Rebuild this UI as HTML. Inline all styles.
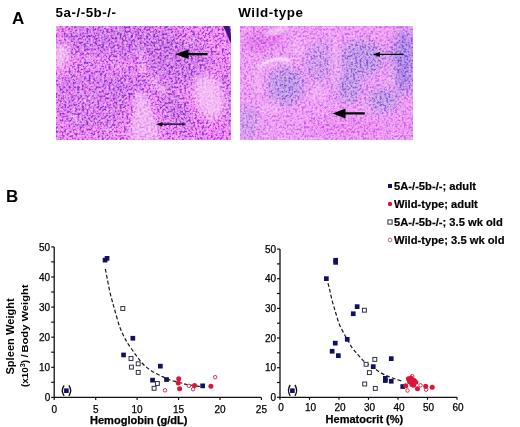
<!DOCTYPE html>
<html><head><meta charset="utf-8"><style>
html,body{margin:0;padding:0;background:#fff;width:520px;height:427px;overflow:hidden}
svg{display:block}
</style></head><body>
<svg width="520" height="427" viewBox="0 0 520 427">
<rect width="520" height="427" fill="#fff"/>
<defs>
<clipPath id="cL"><rect x="56" y="26" width="175" height="114"/></clipPath>
<clipPath id="cR"><rect x="240" y="26" width="173" height="114"/></clipPath>
<filter id="sat" x="0" y="0" width="100%" height="100%" color-interpolation-filters="sRGB"><feColorMatrix type="saturate" values="1.08"/></filter>
<filter id="b1" x="-50%" y="-50%" width="200%" height="200%"><feGaussianBlur stdDeviation="0.8"/></filter>
<filter id="b2" x="-50%" y="-50%" width="200%" height="200%"><feGaussianBlur stdDeviation="2"/></filter>
<filter id="b4" x="-50%" y="-50%" width="200%" height="200%"><feGaussianBlur stdDeviation="4"/></filter>
<filter id="b6" x="-50%" y="-50%" width="200%" height="200%"><feGaussianBlur stdDeviation="6"/></filter>
<filter id="tex3" x="0" y="0" width="100%" height="100%">
 <feTurbulence type="fractalNoise" baseFrequency="0.12" numOctaves="2" seed="5" result="n"/>
 <feColorMatrix in="n" type="matrix" values="0 0 0 0 0.55  0 0 0 0 0.3  0 0 0 0 0.85  0 0 0 -3 1.6"/>
</filter>
<filter id="gtex" x="0" y="0" width="100%" height="100%" color-interpolation-filters="sRGB">
 <feTurbulence type="fractalNoise" baseFrequency="0.45" numOctaves="2" seed="4" result="n"/>
 <feColorMatrix in="n" type="matrix" values="1 0 0 0 0  1 0 0 0 0  1 0 0 0 0  0 0 0 0 1" result="g"/>
 <feComponentTransfer in="g"><feFuncR type="linear" slope="2.0" intercept="-0.500"/><feFuncG type="linear" slope="2.0" intercept="-0.500"/><feFuncB type="linear" slope="2.0" intercept="-0.500"/></feComponentTransfer><feGaussianBlur stdDeviation="0.45"/>
</filter>
<filter id="ctex" x="0" y="0" width="100%" height="100%" color-interpolation-filters="sRGB">
 <feTurbulence type="fractalNoise" baseFrequency="0.45" numOctaves="2" seed="4" result="n"/>
 <feColorMatrix in="n" type="matrix" values="0 0 0 0 0.5  0 0 0 0 0.22  0 0 0 0 0.78  -6 0 0 0 2.9"/><feGaussianBlur stdDeviation="0.45"/>
</filter>
<mask id="fm" maskUnits="userSpaceOnUse" x="240" y="26" width="173" height="114"><g filter="url(#b4)" fill="#fff">
<ellipse cx="286" cy="86" rx="17" ry="17"/><ellipse cx="362" cy="58" rx="21" ry="17"/><ellipse cx="349" cy="86" rx="12" ry="16"/>
<ellipse cx="404" cy="62" rx="11" ry="31"/><ellipse cx="383" cy="100" rx="14" ry="11"/><ellipse cx="319" cy="62" rx="12" ry="18" opacity="0.6"/></g></mask>
</defs>
<g filter="url(#sat)"><g clip-path="url(#cL)">
<rect x="56" y="26" width="175" height="114" fill="#f08cf0"/>
<g filter="url(#b6)">
<ellipse cx="120" cy="40" rx="60" ry="18" fill="#c070dc" opacity="0.6"/>
<ellipse cx="92" cy="100" rx="38" ry="32" fill="#c070dc" opacity="0.45"/>
<ellipse cx="180" cy="62" rx="32" ry="24" fill="#c070dc" opacity="0.6"/>
<ellipse cx="176" cy="110" rx="9" ry="26" transform="rotate(-35 176 110)" fill="#c070dc" opacity="0.7"/>
<ellipse cx="229" cy="100" rx="5" ry="32" fill="#c070dc" opacity="0.6"/>
<ellipse cx="130" cy="85" rx="20" ry="15" fill="#c070dc" opacity="0.4"/>
<ellipse cx="215" cy="135" rx="18" ry="6" fill="#f070f0" opacity="0.6"/>
</g>
<rect x="56" y="26" width="175" height="114" filter="url(#tex3)" opacity="0.45"/>
<rect x="56" y="26" width="175" height="114" filter="url(#ctex)" opacity="0.5"/>
<g filter="url(#b4)">
<ellipse cx="61" cy="56" rx="8" ry="14" fill="#f2bef2" opacity="0.9"/>
<ellipse cx="64" cy="50" rx="4" ry="6" fill="#f8d8f8" opacity="0.6"/>
<ellipse cx="209" cy="97" rx="15" ry="24" transform="rotate(-18 209 97)" fill="#f2bef2" opacity="0.85"/>
<ellipse cx="89" cy="99" rx="7" ry="7" fill="#f2bef2" opacity="0.35"/>
<ellipse cx="118" cy="66" rx="6" ry="6" fill="#f2bef2" opacity="0.25"/>
</g>
<g filter="url(#b2)"><path d="M136,90 L148,96 L162,140 L128,140 Z" fill="#f2c4f2" opacity="0.6"/><path d="M148,78 L153,76 L169,92 L164,96 Z" fill="#f4ccf4" opacity="0.7"/><path d="M139,54 L142,54 L145,74 L141,74 Z" fill="#f8dcf8" opacity="0.7"/></g>
<g filter="url(#b2)">
<ellipse cx="139.9" cy="50.5" rx="2.2" ry="2.2" fill="#fff" opacity="0.95"/>
<ellipse cx="95" cy="58" rx="3" ry="6" transform="rotate(-30 95 58)" fill="#f8d0f8" opacity="0.4"/>
<ellipse cx="75" cy="118" rx="3" ry="6" transform="rotate(-30 75 118)" fill="#f8d0f8" opacity="0.4"/>
<ellipse cx="110" cy="128" rx="3" ry="5" transform="rotate(-30 110 128)" fill="#f8d0f8" opacity="0.4"/>
<ellipse cx="190" cy="44" rx="3" ry="7" transform="rotate(-30 190 44)" fill="#f8d0f8" opacity="0.35"/>
</g>
<rect x="56" y="26" width="175" height="114" filter="url(#gtex)" style="mix-blend-mode:overlay" opacity="0.45"/>
<g filter="url(#b4)">
<ellipse cx="209" cy="97" rx="13" ry="22" transform="rotate(-18 209 97)" fill="#f4c8f4" opacity="0.35"/>
<ellipse cx="61" cy="56" rx="6" ry="12" fill="#f4c8f4" opacity="0.35"/>
</g>
<g filter="url(#b2)" opacity="0.3"><path d="M136,92 L147,97 L160,140 L130,140 Z" fill="#f4ccf4"/></g>
<path d="M223,26 L229.5,26 Q231,33 231.2,40 L230.6,43.5 Q227.5,34 223,26Z" fill="#3c1280"/>
</g></g>
<path d="M207.5,53.1 L188.6,53.1 L188.6,49.5 L175.2,54.2 L188.6,58.9 L188.6,55.3 L207.5,55.3Z" fill="#000"/>
<path d="M185.2,123.6 L162.5,123.6 L162.5,121.9 L155.9,124.2 L162.5,126.5 L162.5,124.8 L185.2,124.8Z" fill="#000"/>
<g filter="url(#sat)"><g clip-path="url(#cR)">
<rect x="240" y="26" width="173" height="114" fill="#eea2f2"/>
<g filter="url(#b4)">
<ellipse cx="286" cy="86" rx="18" ry="18" fill="#bc9ee4" opacity="0.95"/>
<ellipse cx="319" cy="62" rx="14" ry="20" fill="#bc9ee4" opacity="0.6"/>
<ellipse cx="362" cy="58" rx="22" ry="18" fill="#bc9ee4" opacity="0.95"/>
<ellipse cx="349" cy="86" rx="13" ry="17" fill="#bc9ee4" opacity="0.9"/>
<ellipse cx="404" cy="62" rx="12" ry="32" fill="#aa8ae0" opacity="0.95"/>
<ellipse cx="383" cy="100" rx="15" ry="12" fill="#bc9ee4" opacity="0.95"/>
<ellipse cx="248" cy="122" rx="10" ry="18" fill="#bc9ee4" opacity="0.6"/>
<ellipse cx="264" cy="40" rx="20" ry="9" transform="rotate(-15 264 40)" fill="#dc70e4" opacity="0.8"/>
<ellipse cx="345" cy="128" rx="45" ry="9" fill="#e880ec" opacity="0.5"/>
<ellipse cx="405" cy="125" rx="10" ry="15" fill="#e890ec" opacity="0.5"/>
</g>
<rect x="240" y="26" width="173" height="114" filter="url(#tex3)" opacity="0.25"/>
<rect x="240" y="26" width="173" height="114" filter="url(#ctex)" opacity="0.2"/>
<rect x="240" y="26" width="173" height="114" filter="url(#ctex)" mask="url(#fm)" opacity="0.22"/>
<g filter="url(#b2)">
<ellipse cx="276" cy="31" rx="13" ry="3" transform="rotate(-14 276 31)" fill="#f8d8f8" opacity="0.85"/>
<ellipse cx="258" cy="80" rx="5" ry="16" fill="#f2bef2" opacity="0.45"/>
<ellipse cx="298" cy="48" rx="7" ry="10" fill="#f2bef2" opacity="0.45"/>
<ellipse cx="336" cy="62" rx="4" ry="26" fill="#f2bef2" opacity="0.55"/>
<ellipse cx="270" cy="108" rx="10" ry="7" fill="#f2bef2" opacity="0.45"/>
<ellipse cx="318" cy="94" rx="9" ry="9" fill="#f2bef2" opacity="0.5"/>
<ellipse cx="392" cy="78" rx="4" ry="14" fill="#f2bef2" opacity="0.4"/>
<ellipse cx="366" cy="108" rx="6" ry="6" fill="#f2bef2" opacity="0.35"/>
</g>
<g filter="url(#b1)"><path d="M260,67 Q268,59 280,59 Q288,59 291,61" fill="none" stroke="#fbeafb" stroke-width="2.6"/><path d="M263,70 Q272,63 283,63 Q289,63 292,65" fill="none" stroke="#f6d4f6" stroke-width="1.6" opacity="0.8"/></g>
<rect x="240" y="26" width="173" height="114" filter="url(#gtex)" style="mix-blend-mode:overlay" opacity="0.32"/>
</g></g>
<path d="M403.7,53.8 L380,53.8 L380,52 L372.6,54.4 L380,56.8 L380,55 L403.7,55Z" fill="#000"/>
<path d="M364.8,112.3 L345.5,112.3 L345.5,108.4 L332.6,113.4 L345.5,118.4 L345.5,114.5 L364.8,114.5Z" fill="#000"/>
<text x="12" y="23.5" font-family="Liberation Sans, sans-serif" font-weight="bold" font-size="17">A</text>
<text x="6" y="201.7" font-family="Liberation Sans, sans-serif" font-weight="bold" font-size="17">B</text>
<text x="55.6" y="17.4" font-family="Liberation Sans, sans-serif" font-weight="bold" font-size="13.4" letter-spacing="0.5">5a-/-5b-/-</text>
<text x="238.3" y="16.8" font-family="Liberation Sans, sans-serif" font-weight="bold" font-size="13.4" letter-spacing="0.55">Wild-type</text>
<rect x="388.0" y="184.0" width="4" height="4" fill="#111160"/>
<text x="394" y="190" font-family="Liberation Sans, sans-serif" font-weight="bold" font-size="11.2" stroke="#000" stroke-width="0.2">5A-/-5b-/-; adult</text>
<circle cx="390.0" cy="204.0" r="2.2" fill="#dc1438"/>
<text x="394" y="208" font-family="Liberation Sans, sans-serif" font-weight="bold" font-size="11.2" stroke="#000" stroke-width="0.2">Wild-type; adult</text>
<rect x="387.9" y="219.9" width="4.2" height="4.2" fill="#fff" stroke="#2e2e48" stroke-width="1"/>
<text x="394" y="226" font-family="Liberation Sans, sans-serif" font-weight="bold" font-size="11.2" stroke="#000" stroke-width="0.2">5A-/-5b-/-; 3.5 wk old</text>
<circle cx="390" cy="240.0" r="1.9" fill="#fff" stroke="#a86070" stroke-width="0.9"/>
<text x="394" y="244" font-family="Liberation Sans, sans-serif" font-weight="bold" font-size="11.2" stroke="#000" stroke-width="0.2">Wild-type; 3.5 wk old</text>
<path d="M54.2,246.9 V397.4 H261.4" fill="none" stroke="#111" stroke-width="1.3"/>
<line x1="51.2" y1="397.4" x2="54.2" y2="397.4" stroke="#111" stroke-width="1.2"/>
<text x="50.2" y="401.0" font-family="Liberation Sans, sans-serif" font-size="10" text-anchor="end" stroke="#000" stroke-width="0.25">0</text>
<line x1="51.2" y1="382.3" x2="54.2" y2="382.3" stroke="#111" stroke-width="1.2"/>
<line x1="51.2" y1="367.3" x2="54.2" y2="367.3" stroke="#111" stroke-width="1.2"/>
<text x="50.2" y="370.9" font-family="Liberation Sans, sans-serif" font-size="10" text-anchor="end" stroke="#000" stroke-width="0.25">10</text>
<line x1="51.2" y1="352.2" x2="54.2" y2="352.2" stroke="#111" stroke-width="1.2"/>
<line x1="51.2" y1="337.2" x2="54.2" y2="337.2" stroke="#111" stroke-width="1.2"/>
<text x="50.2" y="340.8" font-family="Liberation Sans, sans-serif" font-size="10" text-anchor="end" stroke="#000" stroke-width="0.25">20</text>
<line x1="51.2" y1="322.1" x2="54.2" y2="322.1" stroke="#111" stroke-width="1.2"/>
<line x1="51.2" y1="307.1" x2="54.2" y2="307.1" stroke="#111" stroke-width="1.2"/>
<text x="50.2" y="310.7" font-family="Liberation Sans, sans-serif" font-size="10" text-anchor="end" stroke="#000" stroke-width="0.25">30</text>
<line x1="51.2" y1="292.0" x2="54.2" y2="292.0" stroke="#111" stroke-width="1.2"/>
<line x1="51.2" y1="277.0" x2="54.2" y2="277.0" stroke="#111" stroke-width="1.2"/>
<text x="50.2" y="280.6" font-family="Liberation Sans, sans-serif" font-size="10" text-anchor="end" stroke="#000" stroke-width="0.25">40</text>
<line x1="51.2" y1="261.9" x2="54.2" y2="261.9" stroke="#111" stroke-width="1.2"/>
<line x1="51.2" y1="246.9" x2="54.2" y2="246.9" stroke="#111" stroke-width="1.2"/>
<text x="50.2" y="250.5" font-family="Liberation Sans, sans-serif" font-size="10" text-anchor="end" stroke="#000" stroke-width="0.25">50</text>
<line x1="54.2" y1="397.4" x2="54.2" y2="399.9" stroke="#111" stroke-width="1.2"/>
<text x="54.2" y="412.6" font-family="Liberation Sans, sans-serif" font-size="10" text-anchor="middle" stroke="#000" stroke-width="0.25">0</text>
<line x1="95.7" y1="397.4" x2="95.7" y2="399.9" stroke="#111" stroke-width="1.2"/>
<text x="95.7" y="412.6" font-family="Liberation Sans, sans-serif" font-size="10" text-anchor="middle" stroke="#000" stroke-width="0.25">5</text>
<line x1="137.1" y1="397.4" x2="137.1" y2="399.9" stroke="#111" stroke-width="1.2"/>
<text x="137.1" y="412.6" font-family="Liberation Sans, sans-serif" font-size="10" text-anchor="middle" stroke="#000" stroke-width="0.25">10</text>
<line x1="178.6" y1="397.4" x2="178.6" y2="399.9" stroke="#111" stroke-width="1.2"/>
<text x="178.6" y="412.6" font-family="Liberation Sans, sans-serif" font-size="10" text-anchor="middle" stroke="#000" stroke-width="0.25">15</text>
<line x1="220.0" y1="397.4" x2="220.0" y2="399.9" stroke="#111" stroke-width="1.2"/>
<text x="220.0" y="412.6" font-family="Liberation Sans, sans-serif" font-size="10" text-anchor="middle" stroke="#000" stroke-width="0.25">20</text>
<line x1="261.4" y1="397.4" x2="261.4" y2="399.9" stroke="#111" stroke-width="1.2"/>
<text x="261.4" y="412.6" font-family="Liberation Sans, sans-serif" font-size="10" text-anchor="middle" stroke="#000" stroke-width="0.25">25</text>
<text x="90" y="423.8" font-family="Liberation Sans, sans-serif" font-weight="bold" font-size="11" stroke="#000" stroke-width="0.25" textLength="97.5" lengthAdjust="spacingAndGlyphs">Hemoglobin (g/dL)</text>
<text transform="translate(14.4,374.6) rotate(-90)" font-family="Liberation Sans, sans-serif" font-weight="bold" font-size="11" textLength="76.4" lengthAdjust="spacingAndGlyphs">Spleen Weight</text>
<text transform="translate(28,387) rotate(-90)" font-family="Liberation Sans, sans-serif" font-weight="bold" font-size="8.9" textLength="32.5" lengthAdjust="spacingAndGlyphs">(x10<tspan font-size="6.5" dy="-3">3</tspan><tspan dy="3">) /</tspan></text>
<text transform="translate(28,352.6) rotate(-90)" font-family="Liberation Sans, sans-serif" font-weight="bold" font-size="9.8" textLength="68.2" lengthAdjust="spacingAndGlyphs">Body Weight</text>
<path d="M105.3,269.0 C105.7,270.8 106.7,275.8 107.4,279.5 C108.1,283.2 108.9,287.6 109.7,291.2 C110.5,294.8 111.3,297.7 112.2,301.0 C113.1,304.3 113.8,306.8 115.0,311.0 C116.2,315.2 117.9,321.7 119.4,326.0 C120.9,330.3 122.5,333.5 124.0,336.6 C125.5,339.7 126.8,341.9 128.7,344.8 C130.6,347.7 133.2,351.4 135.2,354.1 C137.2,356.9 138.8,359.1 140.6,361.3 C142.4,363.5 144.2,365.3 146.3,367.1 C148.4,368.9 150.7,370.4 153.1,371.9 C155.5,373.3 158.4,374.6 160.8,375.8 C163.2,377.0 165.3,378.2 167.5,379.1 C169.7,380.0 171.7,380.5 174.0,381.1 C176.3,381.8 179.4,382.4 181.5,383.0 C183.6,383.6 183.4,383.8 186.3,384.4 C189.2,384.9 196.4,386.0 198.8,386.3 C201.2,386.6 200.6,386.4 201.0,386.4" fill="none" stroke="#1a1a1a" stroke-width="1.2" stroke-dasharray="3.8,2.2"/>
<rect x="120.85" y="306.55" width="3.90" height="3.90" fill="#fff" stroke="#303048" stroke-width="1.0"/>
<rect x="129.05" y="356.55" width="3.90" height="3.90" fill="#fff" stroke="#303048" stroke-width="1.0"/>
<rect x="136.25" y="361.85" width="3.90" height="3.90" fill="#fff" stroke="#303048" stroke-width="1.0"/>
<rect x="129.45" y="365.15" width="3.90" height="3.90" fill="#fff" stroke="#303048" stroke-width="1.0"/>
<rect x="136.25" y="370.45" width="3.90" height="3.90" fill="#fff" stroke="#303048" stroke-width="1.0"/>
<rect x="155.45" y="381.55" width="3.90" height="3.90" fill="#fff" stroke="#303048" stroke-width="1.0"/>
<rect x="152.15" y="386.35" width="3.90" height="3.90" fill="#fff" stroke="#303048" stroke-width="1.0"/>
<rect x="102.7" y="257.8" width="4.7" height="4.7" fill="#111160"/>
<rect x="104.7" y="256.0" width="4.7" height="4.7" fill="#111160"/>
<rect x="130.5" y="335.9" width="4.7" height="4.7" fill="#111160"/>
<rect x="121.2" y="352.6" width="4.7" height="4.7" fill="#111160"/>
<rect x="158.0" y="363.8" width="4.7" height="4.7" fill="#111160"/>
<rect x="150.2" y="377.8" width="4.7" height="4.7" fill="#111160"/>
<rect x="164.2" y="377.2" width="4.7" height="4.7" fill="#111160"/>
<rect x="200.3" y="383.5" width="4.7" height="4.7" fill="#111160"/>
<circle cx="165.0" cy="390.3" r="1.75" fill="#fff" stroke="#d43050" stroke-width="1"/>
<circle cx="188.8" cy="385.9" r="1.75" fill="#fff" stroke="#d43050" stroke-width="1"/>
<circle cx="193.1" cy="389.2" r="1.75" fill="#fff" stroke="#d43050" stroke-width="1"/>
<circle cx="215.2" cy="377.2" r="1.75" fill="#fff" stroke="#d43050" stroke-width="1"/>
<circle cx="178.7" cy="378.7" r="2.5" fill="#dc1438"/>
<circle cx="178.2" cy="383.0" r="2.5" fill="#dc1438"/>
<circle cx="179.6" cy="388.8" r="2.5" fill="#dc1438"/>
<circle cx="194.5" cy="385.4" r="2.5" fill="#dc1438"/>
<circle cx="210.9" cy="386.3" r="2.5" fill="#dc1438"/>
<path d="M64.1,385.4 Q60.6,390.6 64.1,395.8 M68.9,385.4 Q72.4,390.6 68.9,395.8" fill="none" stroke="#111" stroke-width="1.4"/>
<rect x="64.1" y="388.4" width="4.6" height="4.6" fill="#111160"/>
<path d="M280.0,249.1 V397.3 H457.0" fill="none" stroke="#111" stroke-width="1.3"/>
<line x1="277.0" y1="397.3" x2="280.0" y2="397.3" stroke="#111" stroke-width="1.2"/>
<text x="276.0" y="400.9" font-family="Liberation Sans, sans-serif" font-size="10" text-anchor="end" stroke="#000" stroke-width="0.25">0</text>
<line x1="277.0" y1="382.5" x2="280.0" y2="382.5" stroke="#111" stroke-width="1.2"/>
<line x1="277.0" y1="367.7" x2="280.0" y2="367.7" stroke="#111" stroke-width="1.2"/>
<text x="276.0" y="371.3" font-family="Liberation Sans, sans-serif" font-size="10" text-anchor="end" stroke="#000" stroke-width="0.25">10</text>
<line x1="277.0" y1="352.8" x2="280.0" y2="352.8" stroke="#111" stroke-width="1.2"/>
<line x1="277.0" y1="338.0" x2="280.0" y2="338.0" stroke="#111" stroke-width="1.2"/>
<text x="276.0" y="341.6" font-family="Liberation Sans, sans-serif" font-size="10" text-anchor="end" stroke="#000" stroke-width="0.25">20</text>
<line x1="277.0" y1="323.2" x2="280.0" y2="323.2" stroke="#111" stroke-width="1.2"/>
<line x1="277.0" y1="308.4" x2="280.0" y2="308.4" stroke="#111" stroke-width="1.2"/>
<text x="276.0" y="312.0" font-family="Liberation Sans, sans-serif" font-size="10" text-anchor="end" stroke="#000" stroke-width="0.25">30</text>
<line x1="277.0" y1="293.5" x2="280.0" y2="293.5" stroke="#111" stroke-width="1.2"/>
<line x1="277.0" y1="278.7" x2="280.0" y2="278.7" stroke="#111" stroke-width="1.2"/>
<text x="276.0" y="282.3" font-family="Liberation Sans, sans-serif" font-size="10" text-anchor="end" stroke="#000" stroke-width="0.25">40</text>
<line x1="277.0" y1="263.9" x2="280.0" y2="263.9" stroke="#111" stroke-width="1.2"/>
<line x1="277.0" y1="249.1" x2="280.0" y2="249.1" stroke="#111" stroke-width="1.2"/>
<text x="276.0" y="252.7" font-family="Liberation Sans, sans-serif" font-size="10" text-anchor="end" stroke="#000" stroke-width="0.25">50</text>
<line x1="280.0" y1="397.3" x2="280.0" y2="399.8" stroke="#111" stroke-width="1.2"/>
<text x="281.1" y="410.6" font-family="Liberation Sans, sans-serif" font-size="10" text-anchor="middle" stroke="#000" stroke-width="0.25">0</text>
<line x1="309.5" y1="397.3" x2="309.5" y2="399.8" stroke="#111" stroke-width="1.2"/>
<text x="310.6" y="410.6" font-family="Liberation Sans, sans-serif" font-size="10" text-anchor="middle" stroke="#000" stroke-width="0.25">10</text>
<line x1="339.0" y1="397.3" x2="339.0" y2="399.8" stroke="#111" stroke-width="1.2"/>
<text x="340.1" y="410.6" font-family="Liberation Sans, sans-serif" font-size="10" text-anchor="middle" stroke="#000" stroke-width="0.25">20</text>
<line x1="368.5" y1="397.3" x2="368.5" y2="399.8" stroke="#111" stroke-width="1.2"/>
<text x="369.6" y="410.6" font-family="Liberation Sans, sans-serif" font-size="10" text-anchor="middle" stroke="#000" stroke-width="0.25">30</text>
<line x1="398.0" y1="397.3" x2="398.0" y2="399.8" stroke="#111" stroke-width="1.2"/>
<text x="399.1" y="410.6" font-family="Liberation Sans, sans-serif" font-size="10" text-anchor="middle" stroke="#000" stroke-width="0.25">40</text>
<line x1="427.5" y1="397.3" x2="427.5" y2="399.8" stroke="#111" stroke-width="1.2"/>
<text x="428.6" y="410.6" font-family="Liberation Sans, sans-serif" font-size="10" text-anchor="middle" stroke="#000" stroke-width="0.25">50</text>
<line x1="457.0" y1="397.3" x2="457.0" y2="399.8" stroke="#111" stroke-width="1.2"/>
<text x="458.1" y="410.6" font-family="Liberation Sans, sans-serif" font-size="10" text-anchor="middle" stroke="#000" stroke-width="0.25">60</text>
<text x="325.6" y="422.8" font-family="Liberation Sans, sans-serif" font-weight="bold" font-size="11" stroke="#000" stroke-width="0.25">Hematocrit (%)</text>
<path d="M328.0,283.1 C328.3,284.4 329.3,288.1 329.9,290.7 C330.5,293.3 331.0,296.2 331.7,298.9 C332.4,301.6 333.2,304.5 334.0,307.1 C334.8,309.7 335.3,311.6 336.2,314.5 C337.1,317.4 338.1,321.2 339.4,324.4 C340.7,327.6 342.7,331.2 344.0,333.7 C345.3,336.2 345.9,337.0 347.3,339.4 C348.7,341.8 350.4,345.2 352.2,347.8 C354.0,350.4 356.1,352.5 358.1,354.8 C360.2,357.1 362.2,359.8 364.5,361.8 C366.8,363.8 369.3,365.0 371.8,366.7 C374.3,368.4 377.1,370.5 379.7,372.1 C382.3,373.7 385.0,375.0 387.6,376.1 C390.2,377.2 392.8,378.1 395.4,379.0 C398.0,379.9 402.0,381.1 403.3,381.5" fill="none" stroke="#1a1a1a" stroke-width="1.2" stroke-dasharray="3.8,2.2"/>
<rect x="362.45" y="308.25" width="3.90" height="3.90" fill="#fff" stroke="#303048" stroke-width="1.0"/>
<rect x="372.85" y="357.45" width="3.90" height="3.90" fill="#fff" stroke="#303048" stroke-width="1.0"/>
<rect x="364.15" y="362.35" width="3.90" height="3.90" fill="#fff" stroke="#303048" stroke-width="1.0"/>
<rect x="367.45" y="370.65" width="3.90" height="3.90" fill="#fff" stroke="#303048" stroke-width="1.0"/>
<rect x="362.75" y="382.05" width="3.90" height="3.90" fill="#fff" stroke="#303048" stroke-width="1.0"/>
<rect x="373.35" y="386.45" width="3.90" height="3.90" fill="#fff" stroke="#303048" stroke-width="1.0"/>
<rect x="333.3" y="257.9" width="4.7" height="4.7" fill="#111160"/>
<rect x="333.3" y="260.0" width="4.7" height="4.7" fill="#111160"/>
<rect x="324.0" y="276.3" width="4.7" height="4.7" fill="#111160"/>
<rect x="354.8" y="304.3" width="4.7" height="4.7" fill="#111160"/>
<rect x="350.9" y="311.4" width="4.7" height="4.7" fill="#111160"/>
<rect x="344.9" y="337.0" width="4.7" height="4.7" fill="#111160"/>
<rect x="332.9" y="340.8" width="4.7" height="4.7" fill="#111160"/>
<rect x="329.8" y="348.9" width="4.7" height="4.7" fill="#111160"/>
<rect x="336.0" y="353.3" width="4.7" height="4.7" fill="#111160"/>
<rect x="388.9" y="356.3" width="4.7" height="4.7" fill="#111160"/>
<rect x="370.9" y="364.3" width="4.7" height="4.7" fill="#111160"/>
<rect x="383.0" y="376.0" width="4.7" height="4.7" fill="#111160"/>
<rect x="383.0" y="378.2" width="4.7" height="4.7" fill="#111160"/>
<rect x="388.9" y="378.9" width="4.7" height="4.7" fill="#111160"/>
<rect x="400.4" y="384.2" width="4.7" height="4.7" fill="#111160"/>
<circle cx="412.3" cy="376.2" r="1.75" fill="#fff" stroke="#d43050" stroke-width="1"/>
<circle cx="407.5" cy="390.5" r="1.75" fill="#fff" stroke="#d43050" stroke-width="1"/>
<circle cx="420.5" cy="385.3" r="1.75" fill="#fff" stroke="#d43050" stroke-width="1"/>
<circle cx="426.1" cy="389.7" r="1.75" fill="#fff" stroke="#d43050" stroke-width="1"/>
<circle cx="405.8" cy="385.8" r="2.5" fill="#dc1438"/>
<circle cx="408.4" cy="378.8" r="2.5" fill="#dc1438"/>
<circle cx="411.0" cy="378.0" r="2.5" fill="#dc1438"/>
<circle cx="412.3" cy="380.1" r="2.5" fill="#dc1438"/>
<circle cx="409.5" cy="381.8" r="2.5" fill="#dc1438"/>
<circle cx="414.2" cy="380.6" r="2.5" fill="#dc1438"/>
<circle cx="411.9" cy="384.5" r="2.5" fill="#dc1438"/>
<circle cx="413.6" cy="385.3" r="2.5" fill="#dc1438"/>
<circle cx="415.8" cy="382.3" r="2.5" fill="#dc1438"/>
<circle cx="417.5" cy="388.8" r="2.5" fill="#dc1438"/>
<circle cx="425.7" cy="386.2" r="2.5" fill="#dc1438"/>
<circle cx="432.2" cy="387.3" r="2.5" fill="#dc1438"/>
<path d="M290.2,385 Q286.7,390.4 290.2,395.8 M294.9,385 Q298.4,390.4 294.9,395.8" fill="none" stroke="#111" stroke-width="1.4"/>
<rect x="290.1" y="388.4" width="4.6" height="4.6" fill="#111160"/>
</svg>
</body></html>
